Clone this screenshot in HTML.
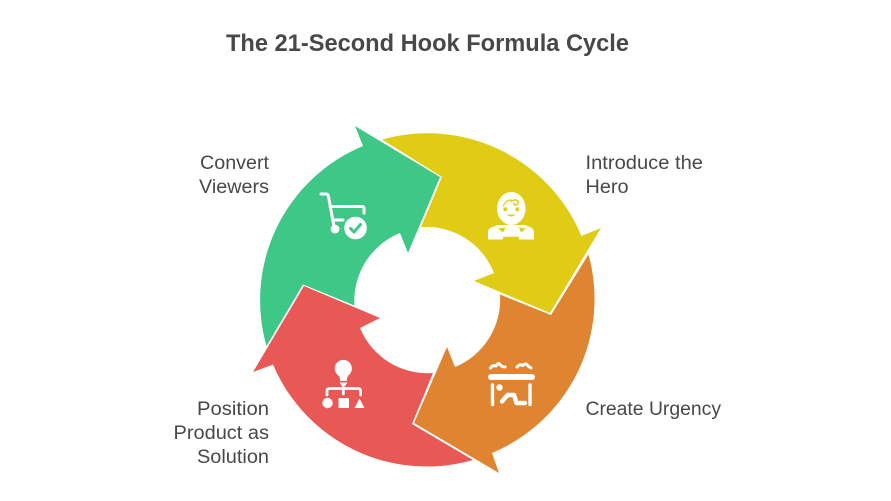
<!DOCTYPE html>
<html>
<head>
<meta charset="utf-8">
<style>
html,body{margin:0;padding:0;background:#fff;width:891px;height:501px;overflow:hidden}
svg{display:block}
text{font-family:"Liberation Sans",sans-serif;fill:#484848;font-size:19px}
</style>
</head>
<body>
<svg width="891" height="501" viewBox="0 0 891 501" xmlns="http://www.w3.org/2000/svg">
<rect width="891" height="501" fill="#fff"/>
<text x="226" y="51" textLength="403" lengthAdjust="spacingAndGlyphs" style="font-size:24px;font-weight:bold">The 21-Second Hook Formula Cycle</text>

<!-- Yellow -->
<path fill="#E0CC15" d="M382 139.500 A167 167 0 0 1 581.500 236 L601 228 L550 313 L474 281 L494 273 A73 73 0 0 0 421 227 L442 177 Z"/>
<!-- Orange -->
<path fill="#DF8431" d="M500 294.500 L551 315 L588.500 254.500 A167 167 0 0 1 492 453 L499 473 L414 423 L447 347 L455 367 A73 73 0 0 0 500 294.500 Z"/>
<!-- Red -->
<path fill="#E85855" d="M304 286 L380 318 L360 328 A73 73 0 0 0 433 373 L412 424 L473 460 A167 167 0 0 1 273 364.500 L253 372 Z"/>
<!-- Green -->
<path fill="#3EC787" d="M355 126 L440 177 L408 253 L400 233 A73 73 0 0 0 354.500 305.500 L303 284.500 L266.500 346 A167 167 0 0 1 363 146 Z"/>

<!-- Cart icon -->
<g fill="none" stroke="#fff" stroke-width="3" stroke-linecap="round" stroke-linejoin="round">
<path d="M321 194 H326 Q328 194 328.500 196.500 L334 227"/>
<path d="M330 206.500 H362 Q364 206.500 364 208.500 V213"/>
<path d="M333 220 H343"/>
</g>
<circle cx="335" cy="229" r="4.400" fill="#fff"/>
<circle cx="355.500" cy="228" r="11.300" fill="#fff"/>
<path d="M350.500 228.500 L354 232 L360.500 224.500" fill="none" stroke="#3EC787" stroke-width="3" stroke-linecap="round" stroke-linejoin="round"/>

<!-- Hero icon -->
<ellipse cx="511.300" cy="208.500" rx="14.300" ry="16.500" fill="#fff"/>
<path d="M503.500 206 C504.500 202 508 200 511 200" fill="none" stroke="#E0CC15" stroke-width="1.200" stroke-linecap="round"/>
<path d="M511 201.500 Q515 198.500 518 201 Q519 205 515 205 Q513 204.500 514 203" fill="none" stroke="#E0CC15" stroke-width="1.400" stroke-linecap="round"/>
<circle cx="505.300" cy="209.300" r="2" fill="#E0CC15"/>
<circle cx="517.300" cy="209.300" r="2" fill="#E0CC15"/>
<path d="M506.500 214.500 Q511.300 218.500 516 214.500 Z" fill="#E0CC15"/>
<path d="M488 239.500 V232 Q488 229.500 491 227.500 L498 225 H525 L531 227.500 Q534 229.500 534 232 V239.500 H519 V236.700 H503 V239.500 Z" fill="#fff"/>
<path d="M498 228.500 L505.500 227.500 L503 232.500 Z" fill="#E0CC15"/>
<path d="M526 228.500 L519 227.500 L521 232.500 Z" fill="#E0CC15"/>

<!-- Urgency icon -->
<g fill="none" stroke="#fff" stroke-linecap="round" stroke-linejoin="round">
<path d="M490.500 368 Q493 364.500 496 366 Q498 362 500 364.500 Q501.500 367 505 367" stroke-width="3"/>
<path d="M517 367 Q520 363.500 523 365.500 Q526 362 528 366 L531 368" stroke-width="3"/>
<path d="M491 377 H532" stroke-width="6"/>
<path d="M492.500 385 V404.500" stroke-width="3.400"/>
<path d="M530 385 V404.500" stroke-width="3.400"/>
<path d="M502 401.500 L507.500 395 H514 L516.500 403 H525" stroke-width="4.400"/>
</g>
<circle cx="499.500" cy="387.500" r="3.200" fill="#fff"/>

<!-- Solution icon -->
<circle cx="343.300" cy="368.500" r="8.600" fill="#fff"/>
<path d="M339 375 H348 L346.500 381 H340.500 Z" fill="#fff"/>
<path d="M339.500 382.500 H347.500 L345.500 385.500 H341.500 Z" fill="#fff"/>
<g fill="none" stroke="#fff" stroke-width="2.800" stroke-linecap="round" stroke-linejoin="round">
<path d="M343.300 385 V394"/>
<path d="M327 395 V391 Q327 388.500 329.500 388.500 H358 Q360.500 388.500 360.500 391 V395"/>
</g>
<circle cx="327.500" cy="403" r="5.200" fill="#fff"/>
<rect x="338.500" y="398" width="10.500" height="10" rx="0.800" fill="#fff"/>
<path d="M359.500 398.500 L364.500 408 H354.500 Z" fill="#fff"/>

<!-- Labels -->
<text x="200" y="169" textLength="69" lengthAdjust="spacingAndGlyphs">Convert</text>
<text x="199" y="193" textLength="70" lengthAdjust="spacingAndGlyphs">Viewers</text>
<text x="585.500" y="169" textLength="117.500" lengthAdjust="spacingAndGlyphs">Introduce the</text>
<text x="585.500" y="193" textLength="43" lengthAdjust="spacingAndGlyphs">Hero</text>
<text x="585.500" y="415" textLength="135.500" lengthAdjust="spacingAndGlyphs">Create Urgency</text>
<text x="197" y="415" textLength="72" lengthAdjust="spacingAndGlyphs">Position</text>
<text x="173.500" y="439" textLength="95.500" lengthAdjust="spacingAndGlyphs">Product as</text>
<text x="197" y="463" textLength="72" lengthAdjust="spacingAndGlyphs">Solution</text>
</svg>
</body>
</html>
